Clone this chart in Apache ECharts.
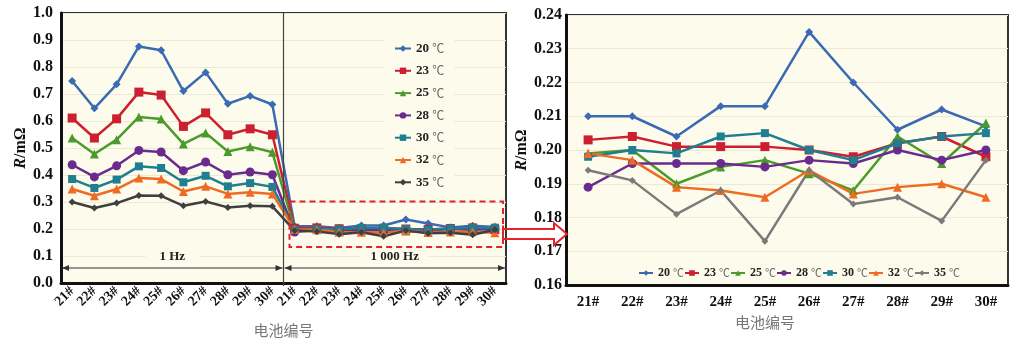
<!DOCTYPE html>
<html>
<head>
<meta charset="utf-8">
<script src="https://cdn.jsdelivr.net/npm/echarts@6/dist/echarts.min.js"></script>
<style>
  html, body { margin: 0; padding: 0; background: #ffffff; }
  #chart { width: 1024px; height: 344px; }
</style>
</head>
<body>
<div id="chart"></div>
<script>
// Cell numbers
const cells = ['21#', '22#', '23#', '24#', '25#', '26#', '27#', '28#', '29#', '30#'];
// Test temperatures
const temps = ['20 ℃', '23 ℃', '25 ℃', '28 ℃', '30 ℃', '32 ℃', '35 ℃'];

// Internal resistance (mΩ) measured at 1 Hz
const r1Hz_20 = [0.748, 0.647, 0.736, 0.876, 0.862, 0.711, 0.780, 0.664, 0.693, 0.661];
const r1Hz_23 = [0.611, 0.537, 0.608, 0.707, 0.696, 0.580, 0.630, 0.549, 0.571, 0.549];
const r1Hz_25 = [0.537, 0.478, 0.531, 0.615, 0.607, 0.515, 0.556, 0.487, 0.505, 0.484];
const r1Hz_28 = [0.438, 0.393, 0.434, 0.491, 0.485, 0.416, 0.448, 0.401, 0.411, 0.401];
const r1Hz_30 = [0.385, 0.352, 0.383, 0.432, 0.426, 0.373, 0.397, 0.358, 0.370, 0.356];
const r1Hz_32 = [0.348, 0.323, 0.348, 0.389, 0.385, 0.339, 0.358, 0.330, 0.336, 0.330];
const r1Hz_35 = [0.300, 0.278, 0.296, 0.324, 0.323, 0.286, 0.302, 0.280, 0.286, 0.284];

// Internal resistance (mΩ) measured at 1 000 Hz
const r1kHz_20 = [0.210, 0.210, 0.204, 0.213, 0.213, 0.235, 0.220, 0.206, 0.212, 0.207];
const r1kHz_23 = [0.203, 0.204, 0.201, 0.201, 0.201, 0.200, 0.198, 0.202, 0.204, 0.198];
const r1kHz_25 = [0.199, 0.200, 0.190, 0.195, 0.197, 0.193, 0.188, 0.204, 0.196, 0.208];
const r1kHz_28 = [0.189, 0.196, 0.196, 0.196, 0.195, 0.197, 0.196, 0.200, 0.197, 0.200];
const r1kHz_30 = [0.198, 0.200, 0.199, 0.204, 0.205, 0.200, 0.197, 0.202, 0.204, 0.205];
const r1kHz_32 = [0.199, 0.197, 0.189, 0.188, 0.186, 0.194, 0.187, 0.189, 0.190, 0.186];
const r1kHz_35 = [0.194, 0.191, 0.181, 0.188, 0.173, 0.194, 0.184, 0.186, 0.179, 0.197];

const lowSets = [r1Hz_20, r1Hz_23, r1Hz_25, r1Hz_28, r1Hz_30, r1Hz_32, r1Hz_35];
const highSets = [r1kHz_20, r1kHz_23, r1kHz_25, r1kHz_28, r1kHz_30, r1kHz_32, r1kHz_35];

// Band labels
const bandLow = '1 Hz';
const bandHigh = '1 000 Hz';

// Look of each temperature line
const leftColors  = ['#3a6ab3', '#cc1f30', '#4b9a2c', '#6a2b8e', '#1f7e8f', '#ef6a22', '#3f3f3f'];
const rightColors = ['#3a6ab3', '#cc1f30', '#4b9a2c', '#6a2b8e', '#1f7e8f', '#ef6a22', '#7a7a7a'];
const symbols = ['diamond', 'rect', 'triangle', 'circle', 'rect', 'triangle', 'diamond'];
const symSizes = [8, 9, 9, 9, 8, 9, 7];

const SERIF = '"Liberation Serif", "Times New Roman", serif';
const CJK = '"Noto Sans CJK SC", sans-serif';
const PLOT_BG = '#fdfcec';
const GRID_LINE = '#ebe9d6';

const L = { left: 61, top: 13, width: 445, height: 270 };
const R = { left: 566, top: 15, width: 442, height: 270 };

const chart = echarts.init(document.getElementById('chart'), null, { renderer: 'canvas' });

const leftCats = cells.map(c => c + '|a').concat(cells.map(c => c + '|b'));

const yName = {
  name: '{i|R}{n|/mΩ}',
  nameLocation: 'middle',
  nameRotate: 90,
  nameTextStyle: {
    rich: {
      i: { fontFamily: SERIF, fontStyle: 'italic', fontWeight: 'bold', fontSize: 16, color: '#111' },
      n: { fontFamily: SERIF, fontWeight: 'bold', fontSize: 16, color: '#111' }
    }
  }
};

function legendFormatter(name) {
  return '{n|' + name.split(' ')[0] + ' }{u|℃}';
}
const legendRichLeft = {
  n: { fontFamily: SERIF, fontWeight: 'bold', fontSize: 13, color: '#222' },
  u: { fontFamily: CJK, fontSize: 12, color: '#666' }
};
const legendRichRight = {
  n: { fontFamily: SERIF, fontWeight: 'bold', fontSize: 12, color: '#222' },
  u: { fontFamily: CJK, fontSize: 11, color: '#666' }
};

const series = [];
temps.forEach((t, i) => {
  series.push({
    name: t, type: 'line', xAxisIndex: 0, yAxisIndex: 0,
    data: lowSets[i].concat(highSets[i]),
    symbol: symbols[i], symbolSize: symSizes[i],
    lineStyle: { color: leftColors[i], width: 2.5 },
    itemStyle: { color: leftColors[i] },
    animation: false
  });
});
temps.forEach((t, i) => {
  series.push({
    name: t, type: 'line', xAxisIndex: 1, yAxisIndex: 1,
    data: highSets[i],
    symbol: symbols[i], symbolSize: symSizes[i],
    lineStyle: { color: rightColors[i], width: 2.5 },
    itemStyle: { color: rightColors[i] },
    animation: false
  });
});

chart.setOption({
  animation: false,
  grid: [
    Object.assign({ show: true, backgroundColor: PLOT_BG, borderColor: '#333', borderWidth: 2 }, L),
    Object.assign({ show: true, backgroundColor: PLOT_BG, borderColor: '#333', borderWidth: 2 }, R)
  ],
  xAxis: [
    {
      gridIndex: 0, type: 'category', data: leftCats, boundaryGap: true,
      axisLine: { lineStyle: { color: '#111', width: 3 } },
      axisTick: { show: false },
      axisLabel: {
        interval: 0, rotate: 45, margin: 6,
        formatter: v => v.split('|')[0],
        fontFamily: SERIF, fontWeight: 'bold', fontSize: 14, color: '#111'
      },
      name: '电池编号', nameLocation: 'middle', nameGap: 40,
      nameTextStyle: { fontFamily: CJK, fontSize: 15, color: '#777' }
    },
    {
      gridIndex: 1, type: 'category', data: cells, boundaryGap: true,
      axisLine: { lineStyle: { color: '#111', width: 3 } },
      axisTick: { show: false },
      axisLabel: {
        interval: 0, margin: 10,
        fontFamily: SERIF, fontWeight: 'bold', fontSize: 15, color: '#111'
      },
      name: '电池编号', nameLocation: 'middle', nameGap: 30,
      nameTextStyle: { fontFamily: CJK, fontSize: 15, color: '#777', padding: [0, 44, 0, 0] }
    }
  ],
  yAxis: [
    Object.assign({
      gridIndex: 0, type: 'value', min: 0, max: 1, interval: 0.1,
      axisLine: { show: true, lineStyle: { color: '#111', width: 3 } },
      axisTick: { show: false },
      splitLine: { lineStyle: { color: GRID_LINE, width: 1 } },
      axisLabel: { formatter: v => v.toFixed(1), margin: 8, fontFamily: SERIF, fontWeight: 'bold', fontSize: 16, color: '#111' },
      nameGap: 30
    }, yName),
    Object.assign({
      gridIndex: 1, type: 'value', min: 0.16, max: 0.24, interval: 0.01,
      axisLine: { show: true, lineStyle: { color: '#111', width: 3 } },
      axisTick: { show: false },
      splitLine: { lineStyle: { color: GRID_LINE, width: 1 } },
      axisLabel: { formatter: v => v.toFixed(2), margin: 4, fontFamily: SERIF, fontWeight: 'bold', fontSize: 16, color: '#111' },
      nameGap: 30
    }, yName)
  ],
  legend: [
    {
      orient: 'vertical', left: 384, top: 38, itemGap: 9.3,
      itemWidth: 16, itemHeight: 8,
      backgroundColor: PLOT_BG, padding: [4, 10, 4, 10],
      data: temps.map((t, i) => ({ name: t, itemStyle: { color: leftColors[i] }, lineStyle: { color: leftColors[i] } })),
      formatter: legendFormatter,
      textStyle: { rich: legendRichLeft }
    },
    {
      orient: 'horizontal', left: 633, top: 262, itemGap: 0,
      itemWidth: 14, itemHeight: 7,
      data: temps.map((t, i) => ({ name: t, itemStyle: { color: rightColors[i] }, lineStyle: { color: rightColors[i] } })),
      formatter: legendFormatter,
      textStyle: { rich: legendRichRight }
    }
  ],
  series: series
});

// Annotations placed through the left chart's own scales
function lp(x, y) { return chart.convertToPixel({ xAxisIndex: 0, yAxisIndex: 0 }, [x, y]); }
const leftRight = L.left + L.width;
const leftBottom = L.top + L.height;
const sepX = (lp(9, 0)[0] + lp(10, 0)[0]) / 2;
const boxTop = lp(0, 0.302)[1];
const boxBottom = lp(0, 0.133)[1];
const boxLeft = sepX + 6;
const boxRight = leftRight - 3;
const dimY = leftBottom - 15;
const bandTextY = lp(0, 0.1)[1] + 1;
const lowMid = (lp(0, 0)[0] + lp(9, 0)[0]) / 2;
const highMid = (lp(10, 0)[0] + lp(19, 0)[0]) / 2;

function dimArrow(x1, x2, y) {
  const c = '#333';
  return [
    { type: 'line', shape: { x1: x1, y1: y, x2: x2, y2: y }, style: { stroke: c, lineWidth: 1.2 }, z: 50 },
    { type: 'polygon', shape: { points: [[x1, y], [x1 + 7, y - 3], [x1 + 7, y + 3]] }, style: { fill: c }, z: 50 },
    { type: 'polygon', shape: { points: [[x2, y], [x2 - 7, y - 3], [x2 - 7, y + 3]] }, style: { fill: c }, z: 50 }
  ];
}

const arrowCy = boxBottom - 13;
const ax0 = boxRight;
const axHead = R.left - 12;
const axTip = R.left + 1;
const red = '#e2232a';

const graphics = [
  { type: 'line', shape: { x1: sepX, y1: L.top, x2: sepX, y2: leftBottom + 3 }, style: { stroke: '#444', lineWidth: 1.2 }, z: 50 },
  { type: 'rect', shape: { x: boxLeft, y: boxTop, width: boxRight - boxLeft, height: boxBottom - boxTop },
    style: { fill: null, stroke: red, lineWidth: 2, lineDash: [6, 4] }, z: 60 },
  { type: 'polyline', shape: { points: [
      [ax0, arrowCy - 5], [axHead, arrowCy - 5], [axHead, arrowCy - 11], [axTip, arrowCy],
      [axHead, arrowCy + 11], [axHead, arrowCy + 5], [ax0, arrowCy + 5]] },
    style: { fill: null, stroke: red, lineWidth: 2 }, z: 60 },
  { type: 'line', shape: { x1: ax0, y1: arrowCy - 8.5, x2: ax0, y2: arrowCy + 8.5 }, style: { stroke: red, lineWidth: 2 }, z: 60 },
  { type: 'text', x: lowMid, y: bandTextY, z: 55,
    style: { text: bandLow, align: 'center', verticalAlign: 'middle', fill: '#222',
             font: 'bold 13px ' + SERIF, backgroundColor: PLOT_BG, padding: [1, 14] } },
  { type: 'text', x: highMid, y: bandTextY, z: 55,
    style: { text: bandHigh, align: 'center', verticalAlign: 'middle', fill: '#222',
             font: 'bold 13px ' + SERIF, backgroundColor: PLOT_BG, padding: [1, 10] } }
].concat(dimArrow(L.left + 1, sepX - 1, dimY), dimArrow(sepX + 1, leftRight - 1, dimY));

chart.setOption({ graphic: graphics });
</script>
</body>
</html>
